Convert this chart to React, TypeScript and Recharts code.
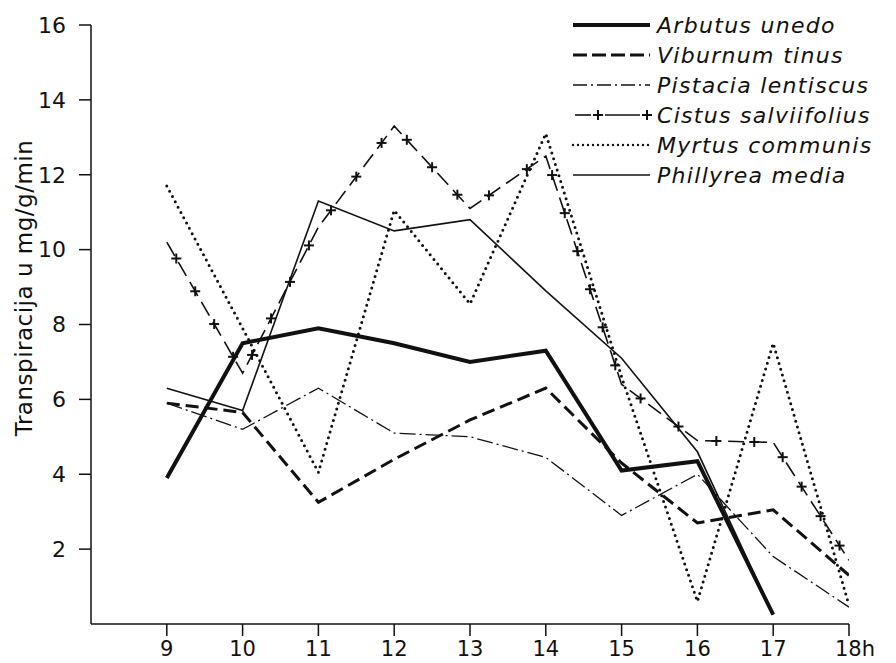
import React from 'react';
import { LineChart, Line, XAxis, YAxis } from 'recharts';

// hours of measurement
const hours = [9, 10, 11, 12, 13, 14, 15, 16, 17, 18];
const yTicks = [2, 4, 6, 8, 10, 12, 14, 16];

// transpiration, mg/g/min
const arbutus = [3.9, 7.5, 7.9, 7.5, 7.0, 7.3, 4.1, 4.35, 0.25, null];
const viburnum = [5.9, 5.65, 3.25, 4.4, 5.45, 6.3, 4.3, 2.7, 3.05, 1.3];
const pistacia = [5.9, 5.2, 6.3, 5.1, 5.0, 4.45, 2.9, 4.0, 1.8, 0.45];
const cistus = [10.2, 6.7, 10.6, 13.3, 11.1, 12.5, 6.4, 4.9, 4.85, 1.7];
const myrtus = [11.7, 7.9, 4.05, 11.05, 8.55, 13.1, 6.6, 0.6, 7.5, 0.5];
const phillyrea = [6.3, 5.7, 11.3, 10.5, 10.8, 8.9, 7.1, 4.6, 0.25, null];

const data = hours.map((h, i) => ({
  hour: h,
  arbutus: arbutus[i],
  viburnum: viburnum[i],
  pistacia: pistacia[i],
  cistus: cistus[i],
  myrtus: myrtus[i],
  phillyrea: phillyrea[i],
}));

const INK = '#111';
const FONT = '"DejaVu Sans", sans-serif';

const XTick = (props: any) => {
  const { x, y, payload } = props;
  if (payload.value === 18) {
    return (
      <text x={x - 14} y={y} dy="0.71em" textAnchor="start" fill={INK} fontSize={21} fontFamily={FONT}>
        18h
      </text>
    );
  }
  return (
    <text x={x} y={y} dy="0.71em" textAnchor="middle" fill={INK} fontSize={21} fontFamily={FONT}>
      {payload.value}
    </text>
  );
};

// "+" marks spread along each segment of the Cistus line
const Plus = ({ x, y }: { x: number; y: number }) => (
  <g stroke={INK} strokeWidth={2}>
    <line x1={x - 5} y1={y} x2={x + 5} y2={y} />
    <line x1={x} y1={y - 5} x2={x} y2={y + 5} />
  </g>
);

const CistusMarks = (props: any) => {
  const { index, points } = props;
  const key = `cm-${index}`;
  const a = points?.[index];
  const b = points?.[index + 1];
  if (!a || !b || a.y == null || b.y == null) return <g key={key} />;
  const len = Math.hypot(b.x - a.x, b.y - a.y);
  const n = Math.max(1, Math.round(len / 40));
  const marks = [];
  for (let k = 0; k < n; k++) {
    const t = (k + 0.5) / n;
    marks.push(<Plus key={k} x={a.x + (b.x - a.x) * t} y={a.y + (b.y - a.y) * t} />);
  }
  return <g key={key}>{marks}</g>;
};

const legendRows = [
  { name: 'Arbutus unedo', kind: 'thick' },
  { name: 'Viburnum tinus', kind: 'dash' },
  { name: 'Pistacia lentiscus', kind: 'dashdot' },
  { name: 'Cistus salviifolius', kind: 'plus' },
  { name: 'Myrtus communis', kind: 'dot' },
  { name: 'Phillyrea media', kind: 'thin' },
];

const LegendSample = ({ kind, y }: { kind: string; y: number }) => {
  const x1 = 13;
  const x2 = 90;
  switch (kind) {
    case 'thick':
      return <line x1={x1} y1={y} x2={x2} y2={y} stroke={INK} strokeWidth={4} />;
    case 'dash':
      return <line x1={x1} y1={y} x2={x2} y2={y} stroke={INK} strokeWidth={3} strokeDasharray="14 5" />;
    case 'dashdot':
      return <line x1={x1} y1={y} x2={x2} y2={y} stroke={INK} strokeWidth={1.3} strokeDasharray="14 4 2 4" />;
    case 'plus':
      return (
        <g>
          <line x1={15} y1={y} x2={31} y2={y} stroke={INK} strokeWidth={1.6} />
          <Plus x={38} y={y} />
          <line x1={45} y1={y} x2={80} y2={y} stroke={INK} strokeWidth={1.6} />
          <Plus x={87} y={y} />
        </g>
      );
    case 'dot':
      return (
        <line x1={x1} y1={y} x2={x2} y2={y} stroke={INK} strokeWidth={2.4} strokeDasharray="0 5" strokeLinecap="round" />
      );
    default:
      return <line x1={x1} y1={y} x2={x2} y2={y} stroke={INK} strokeWidth={1.5} />;
  }
};

export default function App() {
  return (
    <div style={{ position: 'absolute', left: 0, top: 0, width: 896, height: 663, background: '#fff' }}>
      <LineChart width={896} height={663} data={data} margin={{ top: 25, right: 47, left: 21, bottom: 0 }}>
        <XAxis
          dataKey="hour"
          type="number"
          domain={[8, 18]}
          ticks={hours}
          height={39}
          tickSize={12}
          tickMargin={5}
          tick={<XTick />}
          axisLine={{ stroke: INK, strokeWidth: 1.5 }}
          tickLine={{ stroke: INK, strokeWidth: 1.5 }}
          allowDataOverflow
        />
        <YAxis
          type="number"
          domain={[0, 16]}
          ticks={yTicks}
          width={70}
          tickSize={12}
          tickMargin={13}
          tick={{ fill: INK, fontSize: 22, fontFamily: FONT }}
          axisLine={{ stroke: INK, strokeWidth: 1.5 }}
          tickLine={{ stroke: INK, strokeWidth: 1.5 }}
          label={{
            content: () => (
              <text
                x={32}
                y={288}
                transform="rotate(-90 32 288)"
                textAnchor="middle"
                fill={INK}
                fontSize={23}
                letterSpacing={0.5}
                fontFamily={FONT}
              >
                Transpiracija u mg/g/min
              </text>
            ),
          }}
        />
        <Line dataKey="myrtus" stroke={INK} strokeWidth={3} strokeDasharray="0 6" strokeLinecap="round" dot={false} isAnimationActive={false} />
        <Line dataKey="pistacia" stroke={INK} strokeWidth={1.3} strokeDasharray="16 4 2 4" dot={false} isAnimationActive={false} />
        <Line dataKey="viburnum" stroke={INK} strokeWidth={3} strokeDasharray="13 6" dot={false} isAnimationActive={false} />
        <Line dataKey="cistus" stroke={INK} strokeWidth={1.6} strokeDasharray="16 7" dot={CistusMarks} isAnimationActive={false} />
        <Line dataKey="phillyrea" stroke={INK} strokeWidth={1.6} dot={false} isAnimationActive={false} />
        <Line dataKey="arbutus" stroke={INK} strokeWidth={4} dot={false} isAnimationActive={false} />
      </LineChart>
      <svg width={336} height={200} style={{ position: 'absolute', left: 560, top: 0, pointerEvents: 'none' }}>
        {legendRows.map((r, i) => {
          const y = 25 + i * 30;
          return (
            <g key={r.name}>
              <LegendSample kind={r.kind} y={y} />
              <text
                x={97}
                y={y + 8}
                fill={INK}
                fontSize={22}
                fontStyle="italic"
                letterSpacing={1.3}
                fontFamily={FONT}
              >
                {r.name}
              </text>
            </g>
          );
        })}
      </svg>
    </div>
  );
}
